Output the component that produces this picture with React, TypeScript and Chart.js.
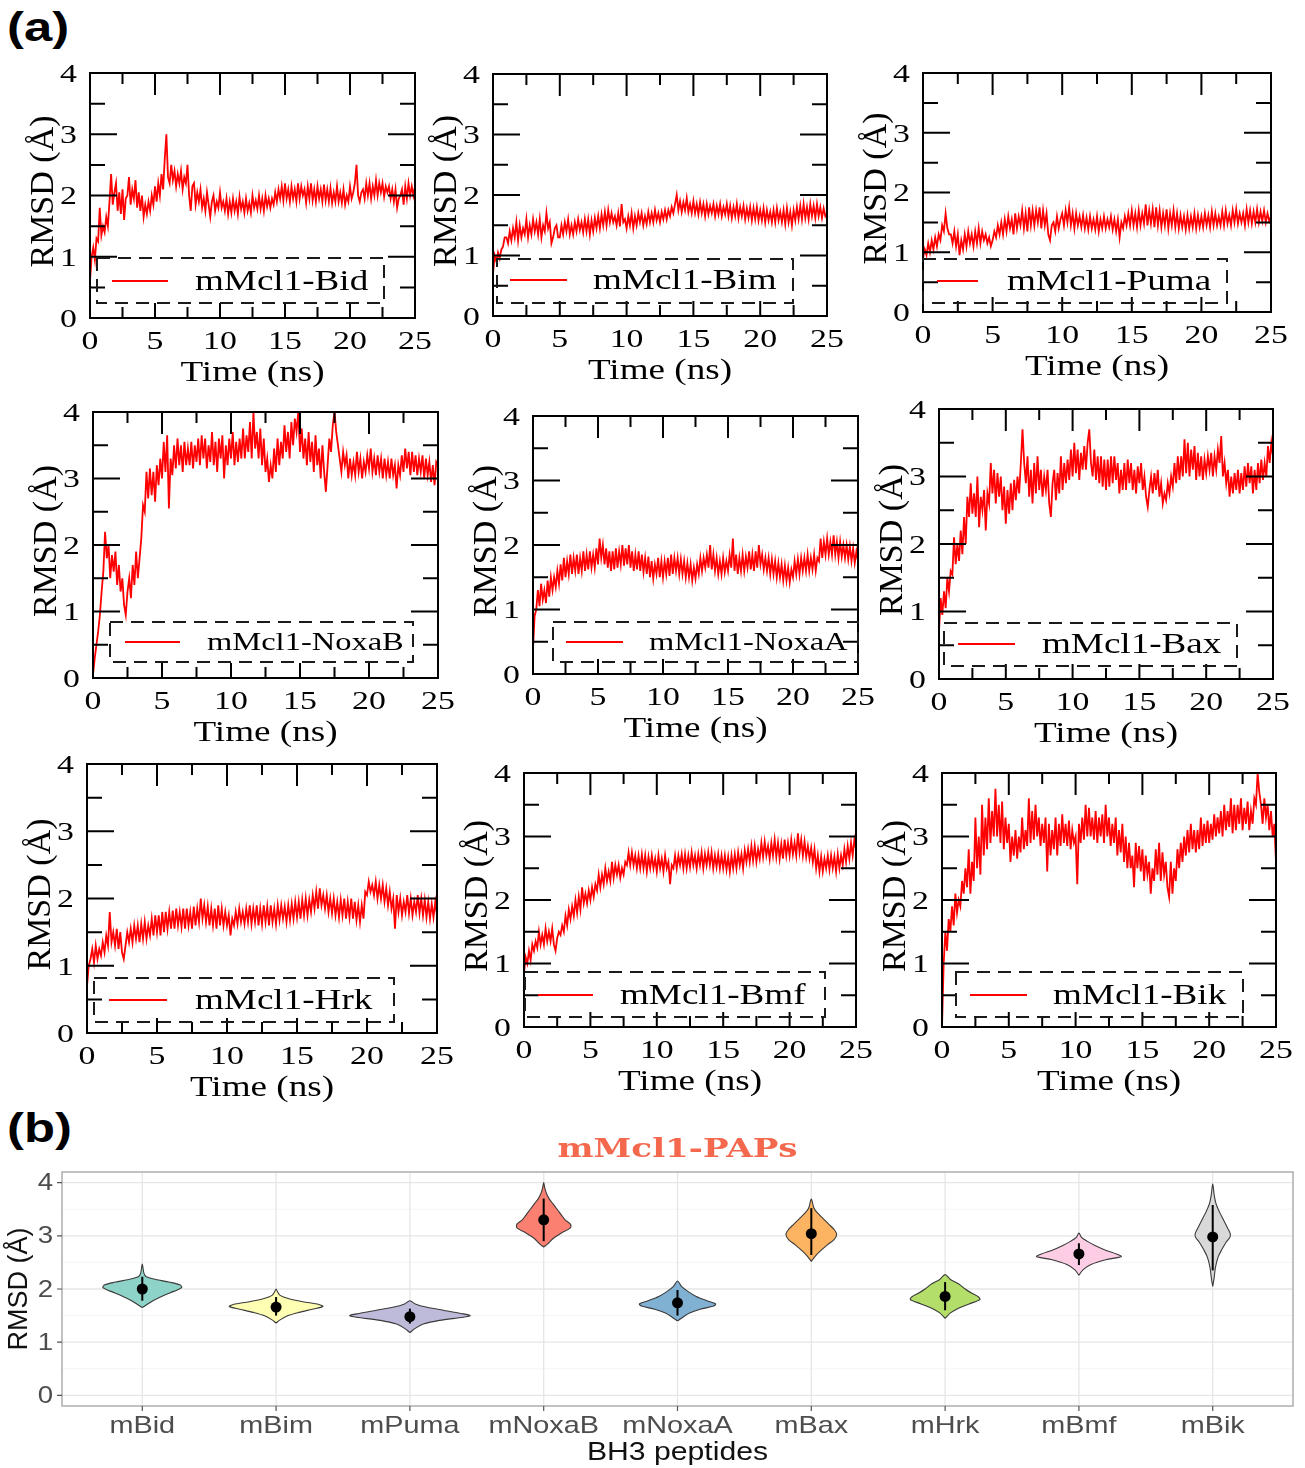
import React, { useEffect, useRef } from 'react';
import { Chart, registerables } from 'chart.js';

Chart.register(...registerables);

// ---------------- DATA: part (a) RMSD time series ----------------
// values, one row per nanosecond (8 samples per ns), 0 .. 25 ns
const TIME_STEP_NS = 0.125;
const TIME_TICKS = [0, 5, 10, 15, 20, 25];
const TIME_MAJOR_INNER = [5, 10, 15, 20];
const TIME_MINOR_INNER = [2.5, 7.5, 12.5, 17.5, 22.5];
const RMSD_TICKS = [0, 1, 2, 3, 4];
const RMSD_MAJOR_INNER = [1, 2, 3];
const RMSD_MINOR_INNER = [0.5, 1.5, 2.5, 3.5];

const LEGEND_LABELS = [
  'mMcl1-Bid', 'mMcl1-Bim', 'mMcl1-Puma',
  'mMcl1-NoxaB', 'mMcl1-NoxaA', 'mMcl1-Bax',
  'mMcl1-Hrk', 'mMcl1-Bmf', 'mMcl1-Bik',
];

const RMSD_BID = [
  0.6, 1.0, 1.15, 0.95, 1.3, 1.25, 1.8, 1.35,
  1.5, 1.4, 1.65, 1.5, 1.9, 2.35, 1.85, 2.05,
  2.2, 1.75, 2.05, 1.7, 2.1, 1.6, 1.95, 2.0,
  2.3, 1.85, 2.1, 1.95, 2.25, 1.8, 2.05, 1.75,
  2.0, 1.65, 1.85, 1.7, 1.9, 1.75, 2.0, 1.85,
  2.15, 1.9, 2.2, 2.0, 2.35, 2.1, 2.6, 3.0,
  2.3, 2.2, 2.5, 2.25, 2.4, 2.15, 2.35, 2.2,
  2.4, 2.1, 2.3, 2.2, 2.5, 2.0, 1.75, 2.15,
  2.2, 1.85, 2.05, 1.9, 2.1, 1.8, 1.95, 1.75,
  2.05, 1.85, 1.65, 1.9, 2.0, 1.75, 1.9, 1.8,
  2.05, 1.8, 1.9, 1.75, 1.95, 1.7, 1.9, 1.72,
  1.95, 1.75, 1.9, 1.7, 1.98, 1.78, 1.9, 1.72,
  1.95, 1.75, 1.88, 1.72, 2.0, 1.8, 1.92, 1.78,
  2.0, 1.78, 1.95, 1.75, 2.0, 1.82, 1.95, 1.8,
  1.95, 1.85, 2.05, 1.9, 2.1, 1.95, 2.15, 1.92,
  2.2, 1.95, 2.1, 1.9, 2.15, 1.95, 2.1, 1.9,
  2.2, 1.95, 2.15, 2.0, 2.1, 1.88, 2.15, 1.95,
  2.2, 1.92, 2.1, 1.9, 2.15, 1.95, 2.1, 1.9,
  2.18, 1.92, 2.1, 1.9, 2.12, 1.88, 2.05, 1.9,
  2.15, 1.9, 2.05, 1.88, 2.1, 1.85, 2.0, 1.9,
  2.15, 1.95, 2.05, 2.2, 2.5, 2.0, 1.9, 2.05,
  2.1, 1.95, 2.2, 2.0, 2.2, 1.95, 2.15, 2.0,
  2.25, 2.0, 2.2, 2.05, 2.2, 1.98, 2.15, 2.05,
  2.15, 1.95, 2.1, 1.9, 2.1, 1.8, 1.95, 2.0,
  2.1, 1.85, 2.15, 1.95, 2.2, 2.0, 2.15, 2.0,
  2.15,
];
const RMSD_BIM = [
  0.7, 1.0, 0.9, 1.05, 0.95, 1.1, 1.15, 1.3,
  1.3, 1.2, 1.4, 1.25, 1.45, 1.3, 1.55, 1.25,
  1.5, 1.3, 1.45, 1.35, 1.6, 1.3, 1.5, 1.35,
  1.6, 1.4, 1.55, 1.35, 1.6, 1.3, 1.5, 1.4,
  1.7, 1.45, 1.55, 1.2, 1.3, 1.45, 1.5, 1.3,
  1.3, 1.5, 1.35, 1.55, 1.4, 1.6, 1.35, 1.5,
  1.35, 1.55, 1.4, 1.6, 1.42, 1.55, 1.38, 1.6,
  1.4, 1.6, 1.35, 1.58, 1.4, 1.62, 1.45, 1.65,
  1.45, 1.68, 1.5, 1.72, 1.5, 1.75, 1.55, 1.7,
  1.55, 1.65, 1.5, 1.7, 1.48, 1.85, 1.55, 1.6,
  1.45, 1.65, 1.5, 1.7, 1.45, 1.65, 1.5, 1.7,
  1.55, 1.7, 1.5, 1.65, 1.52, 1.72, 1.55, 1.7,
  1.55, 1.75, 1.58, 1.7, 1.55, 1.72, 1.6, 1.75,
  1.6, 1.75, 1.65, 1.8, 1.7, 1.85, 2.0, 1.75,
  1.9, 1.72, 1.88, 1.75, 1.95, 1.72, 1.85, 1.7,
  1.9, 1.7, 1.85, 1.68, 1.88, 1.7, 1.85, 1.65,
  1.85, 1.68, 1.82, 1.7, 1.85, 1.65, 1.82, 1.68,
  1.85, 1.65, 1.8, 1.68, 1.85, 1.65, 1.82, 1.62,
  1.8, 1.65, 1.85, 1.62, 1.8, 1.65, 1.82, 1.6,
  1.78, 1.62, 1.8, 1.58, 1.78, 1.6, 1.8, 1.58,
  1.75, 1.58, 1.78, 1.55, 1.75, 1.58, 1.72, 1.55,
  1.75, 1.55, 1.78, 1.58, 1.72, 1.55, 1.75, 1.52,
  1.78, 1.55, 1.72, 1.5, 1.75, 1.58, 1.8, 1.6,
  1.82, 1.6, 1.85, 1.62, 1.8, 1.6, 1.85, 1.65,
  1.82, 1.62, 1.85, 1.65, 1.8, 1.62, 1.78, 1.65,
  1.7,
];
const RMSD_PUMA = [
  0.9, 1.05, 0.95, 1.15, 1.0, 1.2, 1.05, 1.25,
  1.1, 1.3, 1.2, 1.45, 1.35, 1.65, 1.4, 1.3,
  1.3, 1.15, 1.35, 1.1, 1.3, 0.95, 1.2, 1.05,
  1.3, 1.1, 1.35, 1.15, 1.3, 1.1, 1.35, 1.15,
  1.4, 1.15, 1.35, 1.2, 1.3, 1.15, 1.25, 1.1,
  1.2, 1.35, 1.25, 1.45, 1.3, 1.5, 1.3, 1.55,
  1.35, 1.6, 1.4, 1.55, 1.3, 1.65, 1.4, 1.6,
  1.45, 1.7, 1.4, 1.65, 1.35, 1.75, 1.45, 1.7,
  1.45, 1.7, 1.5, 1.75, 1.4, 1.7, 1.45, 1.65,
  1.3, 1.2, 1.45, 1.5, 1.35, 1.6, 1.4, 1.55,
  1.65, 1.45, 1.7, 1.5, 1.75, 1.45, 1.65, 1.4,
  1.65, 1.45, 1.6, 1.42, 1.62, 1.4, 1.58, 1.38,
  1.6, 1.4, 1.55, 1.38, 1.6, 1.35, 1.55, 1.4,
  1.6, 1.4, 1.55, 1.42, 1.6, 1.38, 1.55, 1.35,
  1.55, 1.25, 1.5, 1.4, 1.6, 1.45, 1.65, 1.45,
  1.7, 1.45, 1.65, 1.42, 1.7, 1.45, 1.65, 1.48,
  1.8, 1.45, 1.7, 1.48, 1.72, 1.42, 1.75, 1.45,
  1.7, 1.42, 1.65, 1.45, 1.72, 1.4, 1.65, 1.45,
  1.7, 1.42, 1.65, 1.4, 1.62, 1.42, 1.6, 1.38,
  1.62, 1.4, 1.6, 1.42, 1.65, 1.4, 1.62, 1.42,
  1.6, 1.42, 1.65, 1.45, 1.62, 1.42, 1.68, 1.45,
  1.65, 1.45, 1.6, 1.45, 1.68, 1.45, 1.7, 1.48,
  1.62, 1.45, 1.7, 1.5, 1.72, 1.48, 1.65, 1.5,
  1.65, 1.45, 1.72, 1.5, 1.7, 1.48, 1.68, 1.5,
  1.72, 1.5, 1.68, 1.52, 1.7, 1.5, 1.65, 1.52,
  1.6,
];
const RMSD_NOXAB = [
  0.05, 0.3, 0.5, 0.7, 0.95, 1.3, 1.6, 2.2,
  1.8, 2.0, 1.5, 1.85, 1.6, 1.9, 1.4, 1.7,
  1.3, 1.5, 1.1, 0.95, 1.3, 1.5, 1.2, 1.7,
  1.4, 1.9, 1.5, 1.8, 2.1, 2.6, 2.5, 3.1,
  2.7, 3.15, 2.75, 3.1, 2.65, 3.2, 2.9, 3.3,
  3.0, 3.55, 3.1, 3.65, 2.55, 3.3, 3.05, 3.5,
  3.15, 3.6, 3.2, 3.5, 3.1, 3.55, 3.2, 3.45,
  3.2, 3.55, 3.15, 3.5, 3.25, 3.6, 3.2, 3.65,
  3.3, 3.6, 3.15, 3.5, 3.25, 3.7, 3.2, 3.55,
  3.1, 3.6, 3.3, 3.65, 3.0, 3.5, 3.2, 3.6,
  3.3, 3.7, 3.2, 3.55, 3.25, 3.6, 3.3, 3.75,
  3.3, 3.65, 3.4, 3.85, 3.3, 4.0, 3.45, 3.7,
  3.3, 3.75, 3.2, 3.6, 3.1, 3.3, 2.95, 3.2,
  3.0, 3.45, 3.1, 3.6, 3.2, 3.55, 3.3, 3.8,
  3.4, 3.7, 3.3, 3.85, 3.5, 3.9, 3.7, 4.0,
  3.4, 3.75, 3.3, 3.6, 3.2, 3.7, 3.25, 3.55,
  3.1, 3.65, 3.2, 3.45, 3.0, 3.5, 3.1, 2.8,
  3.2, 3.6, 3.4, 3.8, 4.0, 3.7, 3.5, 3.3,
  3.1, 3.4, 3.2, 3.35, 3.0, 3.3, 3.05, 3.25,
  3.05, 3.4, 3.1, 3.3, 3.0, 3.25, 3.1, 3.35,
  3.15, 3.45, 3.1, 3.3, 3.05, 3.35, 3.1, 3.3,
  3.0, 3.3, 3.05, 3.25, 3.0, 3.3, 3.05, 3.2,
  2.85, 3.2, 3.05, 3.35, 3.1, 3.45, 3.15, 3.4,
  3.05, 3.4, 3.1, 3.35, 3.05, 3.3, 3.1, 3.35,
  3.0, 3.3, 3.05, 3.25, 2.95, 3.2, 2.9, 3.25,
  3.2,
];
const RMSD_NOXAA = [
  0.4, 0.9, 1.0, 1.3, 1.05, 1.4, 1.15, 1.3,
  1.1, 1.45, 1.2, 1.5, 1.3, 1.5, 1.35, 1.6,
  1.4, 1.7, 1.45, 1.8, 1.5, 1.75, 1.55, 1.85,
  1.55, 1.8, 1.6, 1.85, 1.55, 1.8, 1.6, 1.9,
  1.6, 1.85, 1.62, 1.9, 1.65, 1.85, 1.65, 1.95,
  1.7, 2.1, 1.8, 2.0, 1.7, 1.95, 1.65, 1.9,
  1.6, 1.9, 1.62, 1.95, 1.65, 1.9, 1.7, 2.0,
  1.68, 1.95, 1.7, 2.0, 1.65, 1.9, 1.6, 1.85,
  1.62, 1.9, 1.6, 1.85, 1.58, 1.8, 1.55, 1.82,
  1.5, 1.75, 1.48, 1.7, 1.55, 1.8, 1.5, 1.75,
  1.5, 1.75, 1.55, 1.8, 1.52, 1.85, 1.55, 1.8,
  1.6, 1.8, 1.55, 1.78, 1.55, 1.75, 1.5, 1.72,
  1.5, 1.7, 1.45, 1.65, 1.48, 1.7, 1.55, 1.8,
  1.6, 1.8, 1.65, 1.85, 1.65, 2.0, 1.62, 1.85,
  1.6, 1.8, 1.55, 1.75, 1.55, 1.8, 1.58, 1.75,
  1.6, 1.85, 1.65, 2.1, 1.6, 1.85, 1.55, 1.8,
  1.6, 1.85, 1.6, 1.82, 1.65, 1.9, 1.62, 1.85,
  1.6, 1.9, 1.65, 2.0, 1.7, 1.85, 1.62, 1.8,
  1.6, 1.8, 1.55, 1.78, 1.55, 1.75, 1.5, 1.72,
  1.5, 1.7, 1.45, 1.68, 1.45, 1.65, 1.42, 1.62,
  1.5, 1.75, 1.55, 1.78, 1.55, 1.8, 1.6, 1.8,
  1.6, 1.85, 1.6, 1.8, 1.62, 1.85, 1.6, 1.8,
  1.75, 2.1, 1.8, 2.05, 1.85, 2.1, 1.85, 2.05,
  1.85, 2.15, 1.85, 2.05, 1.8, 2.05, 1.82, 2.0,
  1.8, 2.0, 1.78, 1.98, 1.75, 1.95, 1.72, 1.9,
  1.75,
];
const RMSD_BAX = [
  0.7, 1.2, 0.95, 1.3, 1.05, 1.5, 1.3, 1.6,
  1.55, 2.1, 1.7, 2.0, 1.75, 2.2, 1.85, 2.4,
  2.0, 2.7, 2.4, 2.9, 2.45, 2.75, 2.4, 3.0,
  2.25, 2.7, 2.5, 2.8, 2.2, 2.75, 2.6, 3.2,
  2.75, 3.1, 2.6, 3.05, 2.7, 3.0, 2.5, 2.85,
  2.3, 2.8, 2.45, 2.9, 2.5, 2.95, 2.65, 3.0,
  2.75, 3.2, 3.7, 3.2, 2.9, 3.3, 2.7, 3.1,
  2.6, 3.2, 2.75, 3.3, 2.8, 3.1, 2.7, 3.0,
  2.8, 3.1, 2.6, 2.4, 2.9, 3.1, 2.65, 3.05,
  2.75, 3.3, 2.8, 3.2, 2.9, 3.25, 2.95, 3.4,
  3.0, 3.5, 3.05, 3.4, 2.95, 3.35, 3.1, 3.45,
  3.1, 3.5, 3.7, 3.2, 3.0, 3.4, 2.95, 3.3,
  2.9, 3.3, 2.85, 3.25, 2.8, 3.25, 2.85, 3.3,
  2.9, 3.3, 2.95, 3.2, 2.75, 3.1, 2.8, 3.2,
  2.8, 3.25, 2.9, 3.2, 2.8, 3.1, 2.75, 3.15,
  2.9, 3.2, 2.8, 3.0, 2.7, 2.55, 2.8, 3.0,
  2.75, 3.05, 2.8, 3.1, 2.7, 2.9, 2.6, 2.75,
  2.65, 2.9, 2.75, 3.0, 2.85, 3.2, 2.9, 3.3,
  2.95, 3.3, 3.0, 3.55, 3.05, 3.5, 3.0, 3.4,
  3.1, 3.45, 2.95, 3.35, 3.0, 3.3, 2.95, 3.25,
  3.05, 3.3, 3.1, 3.35, 3.0, 3.3, 3.1, 3.4,
  3.2, 3.6, 3.0, 3.2, 2.9, 3.1, 2.7, 3.0,
  2.75, 3.05, 2.8, 3.1, 2.75, 3.05, 2.8, 3.15,
  2.85, 3.2, 2.9, 3.15, 2.75, 3.1, 2.8, 3.2,
  2.9, 3.25, 2.95, 3.2, 3.0, 3.45, 3.2, 3.5,
  3.3,
];
const RMSD_HRK = [
  0.7, 1.0, 1.1, 1.25, 1.05, 1.3, 1.1, 1.25,
  1.15, 1.35, 1.2, 1.45, 1.3, 1.8, 1.35, 1.5,
  1.3, 1.55, 1.25, 1.5, 1.2, 1.1, 1.3, 1.5,
  1.35, 1.55, 1.35, 1.6, 1.4, 1.6, 1.35, 1.62,
  1.4, 1.65, 1.4, 1.6, 1.45, 1.7, 1.45, 1.75,
  1.5, 1.75, 1.45, 1.8, 1.5, 1.8, 1.55, 1.8,
  1.55, 1.82, 1.55, 1.85, 1.6, 1.8, 1.58, 1.85,
  1.55, 1.85, 1.6, 1.8, 1.55, 1.88, 1.6, 1.85,
  1.65, 2.0, 1.7, 1.9, 1.65, 1.88, 1.6, 1.85,
  1.6, 1.85, 1.55, 1.9, 1.6, 1.85, 1.6, 1.8,
  1.6, 1.75, 1.45, 1.7, 1.6, 1.8, 1.62, 1.85,
  1.65, 1.8, 1.62, 1.85, 1.65, 1.9, 1.62, 1.85,
  1.65, 1.9, 1.6, 1.85, 1.62, 1.9, 1.65, 1.88,
  1.6, 1.9, 1.65, 1.85, 1.62, 1.9, 1.68, 1.9,
  1.7, 1.88, 1.65, 1.9, 1.68, 1.92, 1.7, 1.95,
  1.72, 1.95, 1.7, 1.98, 1.75, 2.0, 1.75, 1.98,
  1.8, 2.05, 1.85, 2.1, 1.85, 2.15, 1.9, 2.05,
  1.85, 2.05, 1.8, 2.0, 1.78, 2.0, 1.75, 1.95,
  1.72, 1.98, 1.75, 2.0, 1.7, 1.95, 1.72, 2.0,
  1.7, 1.95, 1.68, 1.9, 1.65, 1.9, 1.7, 2.1,
  2.05, 2.25, 2.1, 2.2, 2.05, 2.25, 2.0, 2.2,
  2.0, 2.2, 1.95, 2.15, 1.9, 2.1, 1.85, 2.0,
  1.55, 2.05, 1.8, 2.0, 1.75, 1.95, 1.8, 2.05,
  1.78, 2.0, 1.75, 1.95, 1.8, 2.05, 1.78, 2.0,
  1.75, 1.98, 1.72, 1.95, 1.7, 1.92, 1.72, 1.95,
  1.75,
];
const RMSD_BMF = [
  0.85, 1.1, 1.0, 1.2, 1.05, 1.3, 1.2, 1.35,
  1.25, 1.5, 1.3, 1.45, 1.3, 1.55, 1.35, 1.5,
  1.35, 1.55, 1.3, 1.2, 1.4, 1.5, 1.45, 1.6,
  1.5, 1.75, 1.6, 1.85, 1.7, 1.9, 1.75, 2.0,
  1.8, 2.05, 1.85, 2.2, 1.95, 2.1, 1.95, 2.15,
  2.0, 2.2, 2.05, 2.25, 2.15, 2.4, 2.2, 2.4,
  2.25, 2.5, 2.3, 2.45, 2.3, 2.6, 2.35, 2.55,
  2.4, 2.55, 2.35, 2.5, 2.4, 2.6, 2.55, 2.75,
  2.55, 2.75, 2.55, 2.7, 2.5, 2.7, 2.5, 2.72,
  2.5, 2.7, 2.45, 2.68, 2.5, 2.7, 2.5, 2.65,
  2.45, 2.7, 2.5, 2.65, 2.45, 2.7, 2.5, 2.6,
  2.25, 2.55, 2.5, 2.7, 2.5, 2.7, 2.55, 2.72,
  2.5, 2.72, 2.5, 2.7, 2.52, 2.75, 2.55, 2.7,
  2.5, 2.72, 2.55, 2.75, 2.5, 2.72, 2.55, 2.75,
  2.55, 2.75, 2.5, 2.7, 2.52, 2.72, 2.5, 2.7,
  2.5, 2.7, 2.48, 2.68, 2.45, 2.7, 2.5, 2.72,
  2.5, 2.75, 2.55, 2.72, 2.5, 2.78, 2.6, 2.8,
  2.6, 2.85, 2.62, 2.85, 2.6, 2.8, 2.65, 2.9,
  2.68, 2.92, 2.7, 2.85, 2.65, 2.9, 2.7, 2.95,
  2.68, 2.9, 2.65, 2.88, 2.65, 2.95, 2.7, 2.9,
  2.7, 2.95, 2.72, 2.9, 2.7, 3.05, 2.75, 2.95,
  2.7, 2.92, 2.68, 2.85, 2.65, 2.82, 2.6, 2.8,
  2.5, 2.7, 2.45, 2.68, 2.45, 2.65, 2.5, 2.7,
  2.48, 2.7, 2.5, 2.68, 2.45, 2.72, 2.5, 2.7,
  2.55, 2.8, 2.6, 2.85, 2.65, 2.9, 2.7, 2.95,
  2.8,
];
const RMSD_BIK = [
  0.0, 1.0, 1.5, 1.2, 1.7, 1.5, 1.9, 1.6,
  2.1, 1.8, 2.0, 1.9, 2.3, 2.1, 2.5, 2.2,
  2.8, 2.1, 2.6, 2.3, 3.3, 2.5, 3.0, 2.4,
  3.5, 2.7, 3.3, 2.8, 3.6, 2.9, 3.4, 3.0,
  3.75, 3.0, 3.5, 2.9, 3.55, 2.8, 3.3, 2.9,
  3.2, 2.6, 3.0, 2.7, 3.1, 2.65, 3.0, 2.75,
  3.3, 2.8, 3.1, 2.85, 3.6, 2.9, 3.4, 2.95,
  3.5, 3.0, 3.3, 2.85, 3.2, 2.9, 3.3, 2.45,
  3.2, 2.7, 3.1, 2.8, 3.3, 2.7, 3.2, 2.85,
  3.35, 2.9, 3.2, 2.85, 3.25, 2.8, 3.1, 2.9,
  3.0, 2.25, 3.2, 2.9, 3.3, 2.95, 3.5, 3.0,
  3.45, 3.0, 3.3, 2.95, 3.4, 2.9, 3.3, 3.0,
  3.35, 2.9, 3.5, 3.0, 3.3, 2.85, 3.2, 2.9,
  3.3, 2.7, 3.1, 2.75, 3.2, 2.6, 3.0, 2.5,
  2.9, 2.5, 2.7, 2.2, 2.9, 2.5, 2.85, 2.45,
  2.8, 2.3, 2.7, 2.4, 2.6, 2.1, 2.5, 2.3,
  2.8, 2.4, 2.9, 2.3, 2.75, 2.4, 2.6, 2.2,
  2.05, 2.6, 2.1, 2.5, 2.3, 2.8, 2.5, 2.9,
  2.6, 3.0, 2.7, 3.1, 2.75, 3.2, 2.8, 3.1,
  2.75, 3.1, 2.8, 3.3, 2.85, 3.2, 2.9, 3.25,
  2.9, 3.2, 2.95, 3.35, 3.0, 3.3, 3.05, 3.4,
  3.0, 3.5, 3.1, 3.4, 3.15, 3.6, 3.05, 3.5,
  3.1, 3.5, 3.2, 3.6, 3.1, 3.45, 3.2, 3.55,
  3.1, 3.4, 3.2, 3.6, 3.5, 4.0, 3.7, 3.5,
  3.2, 3.6, 3.3, 3.5, 3.1, 3.4, 3.0, 3.2,
  2.6,
];
const RMSD_SERIES = [
  RMSD_BID, RMSD_BIM, RMSD_PUMA,
  RMSD_NOXAB, RMSD_NOXAA, RMSD_BAX,
  RMSD_HRK, RMSD_BMF, RMSD_BIK,
];

// ---------------- DATA: part (b) violin plot ----------------
const VIOLIN_CATEGORIES = ['mBid', 'mBim', 'mPuma', 'mNoxaB', 'mNoxaA', 'mBax', 'mHrk', 'mBmf', 'mBik'];
const VIOLIN_COLORS = ['#8dd3c7', '#ffffb3', '#bebada', '#fb8072', '#80b1d3', '#fdb462', '#b3de69', '#fccde5', '#d9d9d9'];
const VIOLIN_MEAN = [2.0, 1.66, 1.48, 3.3, 1.74, 3.04, 1.86, 2.66, 2.98];
const VIOLIN_SD_LOW = [1.78, 1.5, 1.35, 2.9, 1.5, 2.64, 1.6, 2.45, 2.35];
const VIOLIN_SD_HIGH = [2.23, 1.85, 1.63, 3.7, 1.98, 3.52, 2.13, 2.86, 3.58];
const VIOLIN_Y_TICKS = [0, 1, 2, 3, 4];
const VIOLIN_Y_MINOR = [0.5, 1.5, 2.5, 3.5];

const LEVELS_BID = [1.65, 1.70, 1.78, 1.88, 1.96, 2.03, 2.08, 2.13, 2.18, 2.23, 2.3, 2.47];
const WIDTH_BID = [0, 0.03, 0.08, 0.16, 0.24, 0.295, 0.28, 0.2, 0.1, 0.03, 0.012, 0];
const LEVELS_BIM = [1.36, 1.42, 1.5, 1.56, 1.62, 1.67, 1.71, 1.76, 1.82, 1.88, 1.95, 2.0];
const WIDTH_BIM = [0, 0.03, 0.09, 0.17, 0.27, 0.35, 0.32, 0.2, 0.09, 0.03, 0.01, 0];
const LEVELS_PUMA = [1.18, 1.26, 1.34, 1.41, 1.47, 1.5, 1.54, 1.6, 1.66, 1.72, 1.78];
const WIDTH_PUMA = [0, 0.04, 0.1, 0.22, 0.4, 0.45, 0.38, 0.25, 0.12, 0.04, 0];
const LEVELS_NOXAB = [2.79, 2.85, 2.95, 3.05, 3.15, 3.22, 3.3, 3.4, 3.5, 3.6, 3.7, 3.8, 3.9, 4.0];
const WIDTH_NOXAB = [0, 0.03, 0.07, 0.13, 0.2, 0.2, 0.16, 0.13, 0.1, 0.07, 0.04, 0.02, 0.008, 0];
const LEVELS_NOXAA = [1.4, 1.47, 1.55, 1.62, 1.68, 1.72, 1.78, 1.86, 1.95, 2.05, 2.15];
const WIDTH_NOXAA = [0, 0.04, 0.09, 0.17, 0.27, 0.285, 0.22, 0.14, 0.08, 0.03, 0];
const LEVELS_BAX = [2.52, 2.62, 2.72, 2.83, 2.93, 3.03, 3.12, 3.22, 3.32, 3.42, 3.52, 3.69];
const WIDTH_BAX = [0, 0.03, 0.07, 0.12, 0.17, 0.19, 0.17, 0.13, 0.09, 0.05, 0.02, 0];
const LEVELS_HRK = [1.45, 1.55, 1.64, 1.72, 1.8, 1.85, 1.92, 2.0, 2.1, 2.18, 2.27];
const WIDTH_HRK = [0, 0.04, 0.1, 0.18, 0.26, 0.25, 0.2, 0.15, 0.1, 0.04, 0];
const LEVELS_BMF = [2.26, 2.36, 2.46, 2.55, 2.61, 2.66, 2.73, 2.82, 2.9, 2.97, 3.05];
const WIDTH_BMF = [0, 0.03, 0.09, 0.2, 0.317, 0.28, 0.2, 0.12, 0.06, 0.02, 0];
const LEVELS_BIK = [2.05, 2.2, 2.4, 2.6, 2.75, 2.88, 2.98, 3.05, 3.15, 3.3, 3.45, 3.6, 3.75, 3.98];
const WIDTH_BIK = [0, 0.01, 0.02, 0.04, 0.07, 0.1, 0.13, 0.13, 0.11, 0.08, 0.05, 0.025, 0.012, 0];

const VIOLIN_LEVELS = [LEVELS_BID, LEVELS_BIM, LEVELS_PUMA, LEVELS_NOXAB, LEVELS_NOXAA, LEVELS_BAX, LEVELS_HRK, LEVELS_BMF, LEVELS_BIK];
const VIOLIN_WIDTHS = [WIDTH_BID, WIDTH_BIM, WIDTH_PUMA, WIDTH_NOXAB, WIDTH_NOXAA, WIDTH_BAX, WIDTH_HRK, WIDTH_BMF, WIDTH_BIK];

// ---------------- LAYOUT ----------------
const SERIF = '"Liberation Serif", "Times New Roman", serif';
const SANS = '"Liberation Sans", Arial, sans-serif';

// plot boxes of the nine panels: [left, top, right, bottom] in page pixels
const PANEL_BOXES = [
  [90, 73, 415, 318], [493, 74, 827, 316], [923, 73, 1271, 312],
  [93, 412, 438, 678], [533, 416, 858, 674], [939, 409, 1273, 679],
  [87, 764, 437, 1033], [524, 773, 856, 1027], [942, 773, 1276, 1027],
];
const PANEL_PAD = { left: 90, right: 40, top: 30, bottom: 80 };
// legend box: [x0, x1, topAboveBottom, bottomAboveBottom, lineX0, lineX1, textX, textY, fontSize, scaleX]
const LEGEND_LAYOUT = [
  [7, 294, 60, 15, 22, 78, 105, 37, 29, 1.28],
  [4, 300, 57, 13, 17, 74, 100, 36, 29, 1.28],
  [0, 304, 53, 9, 14, 55, 84, 31, 29, 1.28],
  [17, 320, 56, 16, 32, 87, 114, 36, 25, 1.3],
  [20, 325, 52, 12, 33, 90, 116, 32, 25, 1.3],
  [5, 298, 56, 13, 19, 76, 103, 35, 29, 1.28],
  [7, 307, 55, 11, 22, 80, 108, 33, 29, 1.28],
  [1, 301, 55, 10, 14, 69, 96, 32, 29, 1.28],
  [14, 301, 55, 10, 28, 85, 111, 32, 29, 1.28],
];

function stretchedText(
  ctx: CanvasRenderingContext2D, text: string, x: number, y: number,
  font: string, sx: number, align: CanvasTextAlign, color = '#000',
) {
  ctx.save();
  ctx.font = font;
  ctx.fillStyle = color;
  ctx.textAlign = align;
  ctx.textBaseline = 'middle';
  ctx.translate(x, y);
  ctx.scale(sx, 1);
  ctx.fillText(text, 0, 0);
  ctx.restore();
}

const panelDecorPlugin = {
  id: 'panelDecor',
  afterDatasetsDraw(chart: any, _args: any, opts: any) {
    const i = opts.index;
    const { ctx, chartArea: a } = chart;
    const xs = chart.scales.x;
    const ys = chart.scales.y;
    ctx.save();
    ctx.strokeStyle = '#000';
    ctx.lineWidth = 2;
    ctx.strokeRect(a.left, a.top, a.right - a.left, a.bottom - a.top);

    ctx.beginPath();
    const yTick = (v: number, len: number) => {
      const py = ys.getPixelForValue(v);
      ctx.moveTo(a.left, py); ctx.lineTo(a.left + len, py);
      ctx.moveTo(a.right, py); ctx.lineTo(a.right - len, py);
    };
    RMSD_MAJOR_INNER.forEach((v) => yTick(v, 27));
    RMSD_MINOR_INNER.forEach((v) => yTick(v, 15));
    const xTick = (t: number, lenTop: number, lenBot: number) => {
      const px = xs.getPixelForValue(t);
      ctx.moveTo(px, a.top); ctx.lineTo(px, a.top + lenTop);
      ctx.moveTo(px, a.bottom); ctx.lineTo(px, a.bottom - lenBot);
    };
    TIME_MAJOR_INNER.forEach((t) => xTick(t, 22, 15));
    TIME_MINOR_INNER.forEach((t) => xTick(t, 11, 11));
    ctx.stroke();

    RMSD_TICKS.forEach((v) => {
      stretchedText(ctx, String(v), a.left - 13, ys.getPixelForValue(v) + 2, `26px ${SERIF}`, 1.3, 'right');
    });
    TIME_TICKS.forEach((t) => {
      stretchedText(ctx, String(t), xs.getPixelForValue(t), a.bottom + 24, `26px ${SERIF}`, 1.3, 'center');
    });
    stretchedText(ctx, 'Time (ns)', (a.left + a.right) / 2, a.bottom + 55, `29px ${SERIF}`, 1.28, 'center');

    ctx.save();
    ctx.translate(a.left - 46, (a.top + a.bottom) / 2 - 4);
    ctx.rotate(-Math.PI / 2);
    ctx.font = `34px ${SERIF}`;
    ctx.fillStyle = '#000';
    ctx.textAlign = 'center';
    ctx.textBaseline = 'middle';
    ctx.fillText('RMSD (Å)', 0, 0);
    ctx.restore();

    const L = LEGEND_LAYOUT[i];
    ctx.setLineDash([13, 8]);
    ctx.lineWidth = 2;
    ctx.strokeStyle = '#1a1a1a';
    ctx.strokeRect(a.left + L[0], a.bottom - L[2], L[1] - L[0], L[2] - L[3]);
    ctx.setLineDash([]);
    ctx.strokeStyle = '#ff0000';
    ctx.beginPath();
    ctx.moveTo(a.left + L[4], a.bottom - L[7]);
    ctx.lineTo(a.left + L[5], a.bottom - L[7]);
    ctx.stroke();
    stretchedText(ctx, LEGEND_LABELS[i], a.left + L[6], a.bottom - L[7] + 1, `${L[8]}px ${SERIF}`, L[9], 'left');
    ctx.restore();
  },
};

function panelConfig(i: number): any {
  const values = RMSD_SERIES[i];
  return {
    type: 'line',
    data: {
      datasets: [{
        data: values.map((v, k) => ({ x: k * TIME_STEP_NS, y: v })),
        borderColor: '#ff0000',
        borderWidth: 1.8,
        pointRadius: 0,
        tension: 0,
        fill: false,
      }],
    },
    options: {
      animation: false,
      responsive: false,
      events: [],
      layout: { padding: PANEL_PAD },
      scales: {
        x: { type: 'linear', min: 0, max: 25, display: false },
        y: { type: 'linear', min: 0, max: 4, display: false },
      },
      plugins: { legend: { display: false }, tooltip: { enabled: false }, panelDecor: { index: i } },
    },
    plugins: [panelDecorPlugin],
  };
}

const violinDecorPlugin = {
  id: 'violinDecor',
  beforeDatasetsDraw(chart: any) {
    const { ctx, chartArea: a } = chart;
    const xs = chart.scales.x;
    const ys = chart.scales.y;
    ctx.save();
    ctx.beginPath();
    ctx.rect(a.left, a.top, a.right - a.left, a.bottom - a.top);
    ctx.clip();
    ctx.strokeStyle = '#f3f3f3';
    ctx.lineWidth = 0.9;
    ctx.beginPath();
    VIOLIN_Y_MINOR.forEach((v) => {
      const py = ys.getPixelForValue(v);
      ctx.moveTo(a.left, py); ctx.lineTo(a.right, py);
    });
    ctx.stroke();
    ctx.strokeStyle = '#e6e6e6';
    ctx.lineWidth = 1.3;
    ctx.beginPath();
    VIOLIN_Y_TICKS.forEach((v) => {
      const py = ys.getPixelForValue(v);
      ctx.moveTo(a.left, py); ctx.lineTo(a.right, py);
    });
    VIOLIN_CATEGORIES.forEach((_c, k) => {
      const px = xs.getPixelForValue(k + 1);
      ctx.moveTo(px, a.top); ctx.lineTo(px, a.bottom);
    });
    ctx.stroke();
    ctx.restore();
  },
  afterDatasetsDraw(chart: any) {
    const { ctx, chartArea: a } = chart;
    const xs = chart.scales.x;
    const ys = chart.scales.y;
    ctx.save();
    ctx.strokeStyle = '#a8a8a8';
    ctx.lineWidth = 1.4;
    ctx.strokeRect(a.left, a.top, a.right - a.left, a.bottom - a.top);
    ctx.strokeStyle = '#555';
    ctx.lineWidth = 1.2;
    ctx.beginPath();
    VIOLIN_Y_TICKS.forEach((v) => {
      const py = ys.getPixelForValue(v);
      ctx.moveTo(a.left - 5, py); ctx.lineTo(a.left, py);
    });
    VIOLIN_CATEGORIES.forEach((_c, k) => {
      const px = xs.getPixelForValue(k + 1);
      ctx.moveTo(px, a.bottom); ctx.lineTo(px, a.bottom + 5);
    });
    ctx.stroke();

    VIOLIN_Y_TICKS.forEach((v) => {
      stretchedText(ctx, String(v), a.left - 9, ys.getPixelForValue(v) + 1, `24px ${SANS}`, 1.15, 'right', '#4d4d4d');
    });
    VIOLIN_CATEGORIES.forEach((c, k) => {
      stretchedText(ctx, c, xs.getPixelForValue(k + 1), a.bottom + 20, `24px ${SANS}`, 1.2, 'center', '#4d4d4d');
    });
    stretchedText(ctx, 'BH3 peptides', (a.left + a.right) / 2, a.bottom + 47, `26px ${SANS}`, 1.16, 'center', '#111');

    ctx.save();
    ctx.translate(20, (a.top + a.bottom) / 2);
    ctx.rotate(-Math.PI / 2);
    ctx.font = `27px ${SANS}`;
    ctx.fillStyle = '#111';
    ctx.textAlign = 'center';
    ctx.textBaseline = 'middle';
    ctx.fillText('RMSD (Å)', 0, 0);
    ctx.restore();

    const title = 'mMcl1-PAPs';
    ctx.font = `bold 26px "DejaVu Serif", serif`;
    const w = ctx.measureText(title).width;
    stretchedText(ctx, title, (a.left + a.right) / 2, a.top - 22, `bold 26px "DejaVu Serif", serif`, 240 / w, 'center', '#f4694e');
    ctx.restore();
  },
};

function violinConfig(): any {
  const violinSets = VIOLIN_CATEGORIES.map((_c, k) => {
    const center = k + 1;
    const levels = VIOLIN_LEVELS[k];
    const widths = VIOLIN_WIDTHS[k];
    const right = levels.map((y, j) => ({ x: center + widths[j], y }));
    const left = levels.map((y, j) => ({ x: center - widths[j], y })).reverse();
    return {
      data: [...right, ...left.slice(1)],
      borderColor: '#3a3a3a',
      borderWidth: 1.1,
      backgroundColor: VIOLIN_COLORS[k],
      fill: 'shape',
      pointRadius: 0,
      tension: 0.3,
      order: 3,
    };
  });
  const sdSets = VIOLIN_CATEGORIES.map((_c, k) => ({
    data: [{ x: k + 1, y: VIOLIN_SD_LOW[k] }, { x: k + 1, y: VIOLIN_SD_HIGH[k] }],
    borderColor: '#000',
    borderWidth: 2,
    pointRadius: 0,
    fill: false,
    order: 2,
  }));
  const meanSet = {
    data: VIOLIN_MEAN.map((m, k) => ({ x: k + 1, y: m })),
    showLine: false,
    pointRadius: 5.5,
    pointBackgroundColor: '#000',
    pointBorderColor: '#000',
    pointBorderWidth: 0,
    order: 1,
  };
  return {
    type: 'line',
    data: { datasets: [...violinSets, ...sdSets, meanSet] },
    options: {
      animation: false,
      responsive: false,
      events: [],
      layout: { padding: { left: 62, right: 12, top: 72, bottom: 62 } },
      scales: {
        x: { type: 'linear', min: 0.4, max: 9.6, display: false },
        y: { type: 'linear', min: -0.2, max: 4.2, display: false },
      },
      plugins: { legend: { display: false }, tooltip: { enabled: false } },
    },
    plugins: [violinDecorPlugin],
  };
}

function ChartCanvas(props: { left: number; top: number; width: number; height: number; make: () => any }) {
  const ref = useRef<HTMLCanvasElement>(null);
  useEffect(() => {
    const chart = new Chart(ref.current as HTMLCanvasElement, props.make());
    return () => chart.destroy();
  }, []);
  return (
    <canvas
      ref={ref}
      width={props.width}
      height={props.height}
      style={{ position: 'absolute', left: props.left, top: props.top, width: props.width, height: props.height }}
    />
  );
}

export default function App() {
  return (
    <div style={{ position: 'fixed', left: 0, top: 0, width: 1305, height: 1468, overflow: 'hidden', background: '#fff' }}>
      <div style={{ position: 'absolute', left: 7, top: 7, font: `bold 40px ${SANS}`, lineHeight: '40px', transform: 'scaleX(1.27)', transformOrigin: 'left top' }}>(a)</div>
      <div style={{ position: 'absolute', left: 7, top: 1108, font: `bold 40px ${SANS}`, lineHeight: '40px', transform: 'scaleX(1.27)', transformOrigin: 'left top' }}>(b)</div>
      {PANEL_BOXES.map((b, i) => (
        <ChartCanvas
          key={i}
          left={b[0] - PANEL_PAD.left}
          top={b[1] - PANEL_PAD.top}
          width={b[2] - b[0] + PANEL_PAD.left + PANEL_PAD.right}
          height={b[3] - b[1] + PANEL_PAD.top + PANEL_PAD.bottom}
          make={() => panelConfig(i)}
        />
      ))}
      <ChartCanvas left={0} top={1100} width={1305} height={368} make={violinConfig} />
    </div>
  );
}
